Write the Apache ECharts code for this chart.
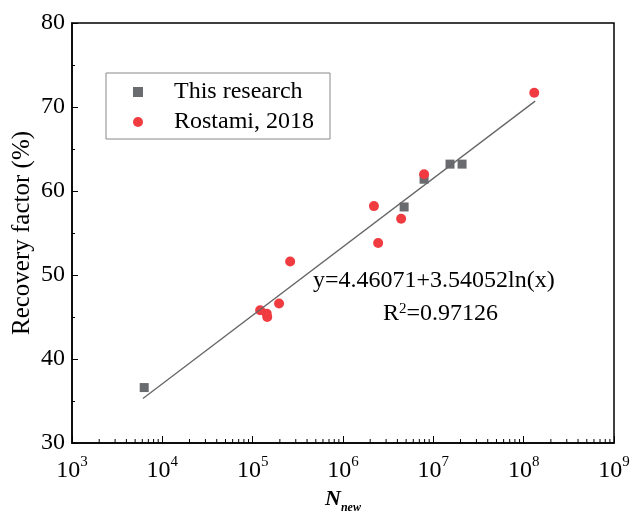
<!DOCTYPE html>
<html>
<head>
<meta charset="utf-8">
<script src="https://cdn.jsdelivr.net/npm/echarts@6/dist/echarts.min.js"></script>
<style>
html,body{margin:0;padding:0;background:#fff;}
#c{width:634px;height:515px;}
</style>
</head>
<body>
<div id="c"></div>
<script>
// Data
const thisResearchX = [6.3e3, 4.75e6, 7.9e6, 1.53e7, 2.08e7];
const thisResearchY = [36.6, 58.1, 61.4, 63.2, 63.2];
const rostamiX = [1.21e5, 1.43e5, 1.45e5, 1.96e5, 2.6e5, 2.2e6, 2.45e6, 4.4e6, 7.9e6, 1.31e8];
const rostamiY = [45.8, 45.4, 45.0, 46.6, 51.6, 58.2, 53.8, 56.7, 62.0, 71.7];
const fitX = [6.1e3, 1.34e8];
const fitY = [35.3, 70.7];
const xMinorTickValues = [];
for (let d = 3; d < 9; d++) { for (let k = 2; k <= 9; k++) { xMinorTickValues.push(k * Math.pow(10, d)); } }

const FONT = '"Liberation Serif", "Times New Roman", serif';
const zip = (a, b) => a.map((v, i) => [v, b[i]]);

const chart = echarts.init(document.getElementById('c'), null, {renderer: 'canvas'});
chart.setOption({
  backgroundColor: '#fff',
  animation: false,
  grid: {left: 72, right: 20, top: 23, bottom: 72, show: true, borderColor: '#000', borderWidth: 1.5,
         containLabel: false, outerBoundsMode: 'none'},
  legend: {
    left: 106, top: 73, orient: 'vertical',
    borderColor: '#888', borderWidth: 1, borderRadius: 0,
    padding: [6, 16, 4, 27],
    itemWidth: 10, itemHeight: 10, itemGap: 4,
    textStyle: {fontFamily: FONT, fontSize: 24, color: '#000', lineHeight: 26, padding: [0, 0, 0, 26]},
    data: [{name: 'This research', icon: 'rect'}, {name: 'Rostami, 2018', icon: 'circle'}]
  },
  xAxis: {
    type: 'log', logBase: 10, min: 1e3, max: 1e9, splitNumber: 6,
    name: '{n|N}{s|new}', nameLocation: 'middle', nameGap: 45, nameMoveOverlap: false,
    nameTextStyle: {rich: {
      n: {fontFamily: FONT, fontSize: 22, fontWeight: 'bold', fontStyle: 'italic', color: '#000', lineHeight: 26, verticalAlign: 'top'},
      s: {fontFamily: FONT, fontSize: 12, fontWeight: 'bold', fontStyle: 'italic', color: '#000', lineHeight: 26, verticalAlign: 'bottom', padding: [8, 0, 0, 0]}
    }},
    axisLine: {lineStyle: {color: '#000', width: 1.5}},
    axisTick: {inside: true, length: 7, lineStyle: {color: '#000', width: 1}},
    splitLine: {show: false},
    axisLabel: {
      margin: 12,
      formatter: v => '{b|10}{s|' + Math.round(Math.log10(v)) + '}',
      rich: {
        b: {fontFamily: FONT, fontSize: 24, color: '#000', lineHeight: 28, verticalAlign: 'bottom'},
        s: {fontFamily: FONT, fontSize: 15, color: '#000', lineHeight: 28, verticalAlign: 'top'}
      }
    }
  },
  yAxis: {
    type: 'value', min: 30, max: 80, interval: 10,
    name: 'Recovery factor (%)', nameLocation: 'middle', nameGap: 37, nameMoveOverlap: false,
    nameTextStyle: {fontFamily: FONT, fontSize: 25, color: '#000'},
    axisLine: {show: true, lineStyle: {color: '#000', width: 1.5}},
    axisTick: {inside: true, length: 6, lineStyle: {color: '#000', width: 1}},
    minorTick: {show: true, splitNumber: 2, length: 3, lineStyle: {color: '#000', width: 1}},
    splitLine: {show: false},
    axisLabel: {fontFamily: FONT, fontSize: 24, color: '#000', margin: 7}
  },
  series: [
    {
      name: 'minorTicks', type: 'custom', silent: true, clip: false, legendHoverLink: false,
      data: xMinorTickValues.map(v => [v, 30]),
      renderItem: (params, api) => {
        const p = api.coord([api.value(0), api.value(1)]);
        return {type: 'line', shape: {x1: p[0], y1: p[1], x2: p[0], y2: p[1] - 4}, style: {stroke: '#000', lineWidth: 1}};
      },
      z: 1
    },
    {
      name: 'This research', type: 'scatter', symbol: 'rect', symbolSize: 9,
      itemStyle: {color: '#6a6b6f', opacity: 1},
      data: zip(thisResearchX, thisResearchY), z: 2
    },
    {
      name: 'Rostami, 2018', type: 'scatter', symbol: 'circle', symbolSize: 10,
      itemStyle: {color: '#f03c41', opacity: 1},
      data: zip(rostamiX, rostamiY), z: 3
    },
    {
      name: 'fit', type: 'line', showSymbol: false, symbol: 'none',
      lineStyle: {color: '#666', width: 1.3},
      data: zip(fitX, fitY), z: 4
    }
  ],
  graphic: [
    {type: 'text', left: 313, top: 269, style: {text: 'y=4.46071+3.54052ln(x)', font: '24px ' + FONT, fill: '#000'}},
    {type: 'text', left: 383, top: 302, style: {
      text: 'R{s|2}=0.97126', font: '24px ' + FONT, fill: '#000',
      rich: {s: {fontSize: 15, fontFamily: FONT, verticalAlign: 'top', fill: '#000'}}
    }}
  ]
});
</script>
</body>
</html>
